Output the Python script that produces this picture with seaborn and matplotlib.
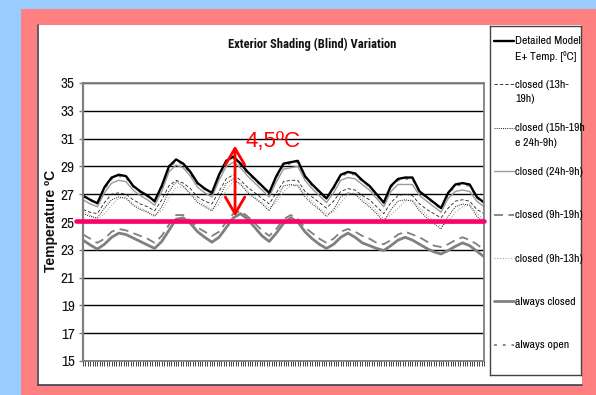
import numpy as np
import pandas as pd
import matplotlib
matplotlib.use("Agg")
import matplotlib.pyplot as plt
import seaborn as sns
from matplotlib.patches import Rectangle
from matplotlib.lines import Line2D

# ---------------- data (one value every 3 hours, 7 days) ----------------
step_hours = 3
series_names = [
    "Detailed Model\nE+ Temp. [ºC]",
    "closed (13h-\n19h)",
    "closed (15h-19h\ne 24h-9h)",
    "closed (24h-9h)",
    "closed (9h-19h)",
    "closed (9h-13h)",
    "always closed",
    "always open",
]
detailed = [26.9, 26.6, 26.35, 27.5, 28.2, 28.4, 28.3, 27.6, 27.2, 26.9, 26.5, 27.6, 29.0, 29.5, 29.2,
            28.6, 27.8, 27.4, 27.1, 28.4, 29.4, 29.7, 29.2, 28.6, 28.1, 27.6, 27.1, 28.3, 29.2, 29.3,
            29.4, 28.3, 27.7, 27.2, 26.7, 27.5, 28.4, 28.6, 28.5, 28.0, 27.6, 27.0, 26.4, 27.6, 28.1,
            28.2, 28.2, 27.2, 26.8, 26.4, 26.0, 27.1, 27.7, 27.8, 27.7, 26.8, 26.4]
closed_13_19 = [25.9, 25.7, 25.6, 26.4, 27.0, 27.1, 27.0, 26.6, 26.3, 26.1, 25.8, 26.6, 27.6, 28.0, 27.8,
                27.4, 26.8, 26.5, 26.3, 27.2, 28.1, 28.4, 28.0, 27.5, 27.1, 26.7, 26.3, 27.1, 27.9, 28.0,
                28.0, 27.2, 26.8, 26.4, 26.0, 26.5, 27.2, 27.4, 27.3, 26.9, 26.6, 26.1, 25.6, 26.4, 26.9,
                27.0, 26.9, 26.3, 25.9, 25.6, 25.3, 26.0, 26.5, 26.6, 26.5, 25.9, 25.6]
closed_15_19_24_9 = [25.6, 25.4, 25.3, 26.0, 26.6, 26.8, 26.7, 26.2, 25.9, 25.7, 25.4, 26.1, 27.2, 27.9, 27.6,
                     27.0, 26.4, 26.1, 25.8, 26.7, 27.8, 28.1, 27.7, 27.1, 26.7, 26.3, 25.8, 26.7, 27.6, 27.7,
                     27.6, 26.8, 26.3, 25.9, 25.4, 25.9, 26.8, 27.1, 27.0, 26.5, 26.1, 25.6, 25.0, 25.9, 26.5,
                     26.6, 26.5, 25.8, 25.3, 24.9, 24.5, 25.4, 26.1, 26.3, 26.2, 25.4, 25.0]
closed_24_9 = [26.6, 26.3, 26.1, 27.1, 27.8, 28.0, 27.9, 27.3, 26.9, 26.6, 26.2, 27.2, 28.6, 29.1, 28.9,
               28.3, 27.5, 27.1, 26.8, 28.0, 29.0, 29.3, 28.9, 28.3, 27.8, 27.3, 26.8, 27.9, 28.8, 28.9,
               29.0, 28.0, 27.4, 26.9, 26.4, 27.1, 28.0, 28.2, 28.1, 27.7, 27.3, 26.7, 26.1, 27.2, 27.7,
               27.7, 27.7, 26.9, 26.5, 26.1, 25.7, 26.7, 27.2, 27.3, 27.2, 26.5, 26.1]
closed_9_19 = [24.1, 23.8, 23.5, 23.8, 24.3, 24.5, 24.4, 24.2, 24.0, 23.8, 23.5, 24.0, 24.8, 25.5, 25.5,
               25.1, 24.6, 24.3, 24.0, 24.3, 25.0, 25.6, 25.8, 25.4, 24.9, 24.4, 24.0, 24.5, 25.2, 25.5,
               25.2, 24.6, 24.2, 23.8, 23.5, 23.8, 24.3, 24.5, 24.3, 24.0, 23.8, 23.5, 23.4, 23.7, 24.1,
               24.3, 24.1, 23.9, 23.6, 23.3, 23.2, 23.4, 23.7, 23.9, 23.7, 23.4, 23.0]
closed_9_13 = [25.8, 25.5, 25.2, 25.6, 26.2, 26.7, 26.8, 26.3, 26.0, 25.8, 25.5, 25.8, 26.7, 27.5, 27.5,
               27.1, 26.6, 26.2, 25.9, 26.3, 27.3, 27.9, 27.8, 27.2, 26.8, 26.4, 26.0, 26.4, 27.2, 27.6,
               27.7, 27.0, 26.5, 26.0, 25.6, 25.7, 26.4, 27.0, 27.1, 26.7, 26.3, 25.8, 25.2, 25.5, 26.0,
               26.5, 26.6, 26.0, 25.5, 25.1, 24.7, 25.0, 25.7, 26.1, 26.3, 25.6, 25.2]
always_closed = [23.7, 23.35, 23.05, 23.4, 23.9, 24.2, 24.1, 23.85, 23.6, 23.35, 23.1, 23.6, 24.4, 25.2, 25.3,
                 24.9, 24.3, 23.9, 23.55, 23.9, 24.6, 25.3, 25.6, 25.2, 24.6, 24.0, 23.6, 24.2, 24.9, 25.3,
                 25.0, 24.3, 23.8, 23.4, 23.1, 23.4, 23.9, 24.2, 23.9, 23.5, 23.3, 23.1, 22.95, 23.3, 23.7,
                 23.9, 23.7, 23.4, 23.1, 22.85, 22.7, 22.95, 23.25, 23.5, 23.3, 22.9, 22.5]
always_open = [26.85, 26.55, 26.3, 27.4, 28.1, 28.3, 28.2, 27.55, 27.15, 26.85, 26.45, 27.5, 28.9, 29.4, 29.1,
               28.5, 27.75, 27.35, 27.05, 28.3, 29.3, 29.6, 29.1, 28.5, 28.05, 27.55, 27.05, 28.2, 29.1, 29.2,
               29.3, 28.25, 27.65, 27.15, 26.65, 27.4, 28.3, 28.5, 28.4, 27.95, 27.55, 26.95, 26.35, 27.5, 28.0,
               28.1, 28.1, 27.15, 26.75, 26.35, 25.95, 27.0, 27.6, 27.7, 27.6, 26.75, 26.35]
series_values = [detailed, closed_13_19, closed_15_19_24_9, closed_24_9,
                 closed_9_19, closed_9_13, always_closed, always_open]

title = "Exterior Shading (Blind) Variation"
y_label = "Temperature ºC"
delta_label = "4,5ºC"
comfort_limit = 25.05
delta_low, delta_high = 25.4, 30.5
delta_hour = 63.7

# ---------------- styles ----------------
colors = ["#000000", "#202020", "#202020", "#9a9a9a", "#7f7f7f", "#a8a8a8", "#808080", "#8a8a8a"]
widths = [1.7, 0.6, 0.7, 1.0, 1.3, 0.8, 2.0, 1.4]
dash_specs = ["", (4, 2.5), (1, 1.2), "", (5, 3), (1, 1.5), "", (1.5, 3)]
palette = dict(zip(series_names, colors))
sizes = dict(zip(series_names, widths))
dashes = dict(zip(series_names, dash_specs))
draw_order = [series_names[i] for i in [6, 4, 5, 2, 1, 3, 7, 0]]

rows = []
for name, vals in zip(series_names, series_values):
    for i, v in enumerate(vals):
        rows.append((i * step_hours, v, name))
df = pd.DataFrame(rows, columns=["hour", "temp", "series"])

sns.set_theme(style="white")
NARROW = ["Archivo Narrow", "PT Sans Narrow", "DejaVu Sans"]
plt.rcParams["font.family"] = NARROW

W, H = 596, 395
fig = plt.figure(figsize=(W / 100, H / 100), dpi=100, facecolor="#99CCFF")


def fx(px):
    return px / W


def fy(py):
    return 1 - py / H


fig.patches.append(Rectangle((fx(21), 0), 1 - fx(21), fy(9), transform=fig.transFigure,
                             facecolor="#FF8080", edgecolor="none", zorder=-5))
fig.patches.append(Rectangle((fx(37), fy(385)), fx(582) - fx(37), fy(25) - fy(385),
                             transform=fig.transFigure, facecolor="white", edgecolor="none", zorder=-4))
fig.lines.append(Line2D([fx(38), fx(38)], [fy(25), fy(385)], transform=fig.transFigure,
                        color="#3a3f55", lw=1.2, zorder=-3))
fig.lines.append(Line2D([fx(38), fx(582)], [fy(385), fy(385)], transform=fig.transFigure,
                        color="#3a3f55", lw=1.2, zorder=-3))

ax = fig.add_axes([fx(83), fy(361), fx(484) - fx(83), fy(83) - fy(361)])
ax.set_facecolor("white")
sns.lineplot(data=df, x="hour", y="temp", hue="series", style="series", size="series",
             hue_order=draw_order, style_order=draw_order, size_order=draw_order,
             palette=palette, dashes=dashes, sizes=sizes, estimator=None,
             legend=False, ax=ax)

ax.set_xlim(0, 168)
ax.set_ylim(15, 35)
ax.set_yticks(np.arange(15, 36, 2))
ax.set_xticks(np.arange(0, 169, 1))
ax.set_xticklabels([])
ax.set_xlabel("")
ax.set_ylabel("")
ax.grid(axis="y", color="black", lw=1.0, zorder=0)
ax.set_axisbelow(True)
for side, sp in ax.spines.items():
    sp.set_color("#808080")
    sp.set_linewidth(1.3)
ax.spines["left"].set_linewidth(1.6)
ax.tick_params(axis="x", length=3.5, width=0.7, color="#444444", direction="out", bottom=True)
ax.tick_params(axis="y", length=3, width=1.0, color="#808080", direction="out", left=True,
               labelsize=11, pad=3)
for t in ax.get_yticklabels():
    t.set_color("#111111")

# comfort line and annotation
ax.axhline(comfort_limit, xmin=-0.018, xmax=1.0, color="#FF0066", lw=3.3, clip_on=False, zorder=6)
ax.annotate("", xy=(delta_hour, delta_high), xytext=(delta_hour, delta_low),
            arrowprops=dict(arrowstyle="<->,head_length=1.2,head_width=0.7", color="#FF0000",
                            lw=2.0, mutation_scale=10, shrinkA=0, shrinkB=0), zorder=7)
ax.text(67.9, 30.4, delta_label, color="#FF0000", fontsize=16, va="baseline", ha="left",
        family=["Liberation Sans", "DejaVu Sans"], zorder=8)

# title and y label
fig.text(fx(312), fy(44), title, ha="center", va="center", fontsize=9, fontweight="bold",
         family=["Roboto Condensed", "PT Sans Narrow", "DejaVu Sans"], color="#111111")
fig.text(fx(51), fy(221), y_label, ha="center", va="center", rotation=90, fontsize=10,
         fontweight="bold", family=["Liberation Sans", "DejaVu Sans"], color="#111111")

# legend box
lax = fig.add_axes([fx(490), fy(375), fx(581) - fx(490), fy(26) - fy(375)])
lax.set_xlim(0, 91)
lax.set_ylim(349, 0)
lax.set_xticks([])
lax.set_yticks([])
lax.set_facecolor("white")
for sp in lax.spines.values():
    sp.set_color("#444444")
    sp.set_linewidth(1.0)
for i, name in enumerate(series_names):
    yy = 15 + i * 43.4
    d = dashes[name]
    kw = dict(linestyle="-") if d == "" else dict(dashes=d)
    lax.add_line(Line2D([4, 24], [yy, yy], color=palette[name], lw=sizes[name], **kw))
    lax.text(25, yy - 4.5, name, fontsize=8.5, va="top", ha="left", linespacing=1.55,
             color="#000000")

fig.savefig("out.png", dpi=100, facecolor=fig.get_facecolor())
